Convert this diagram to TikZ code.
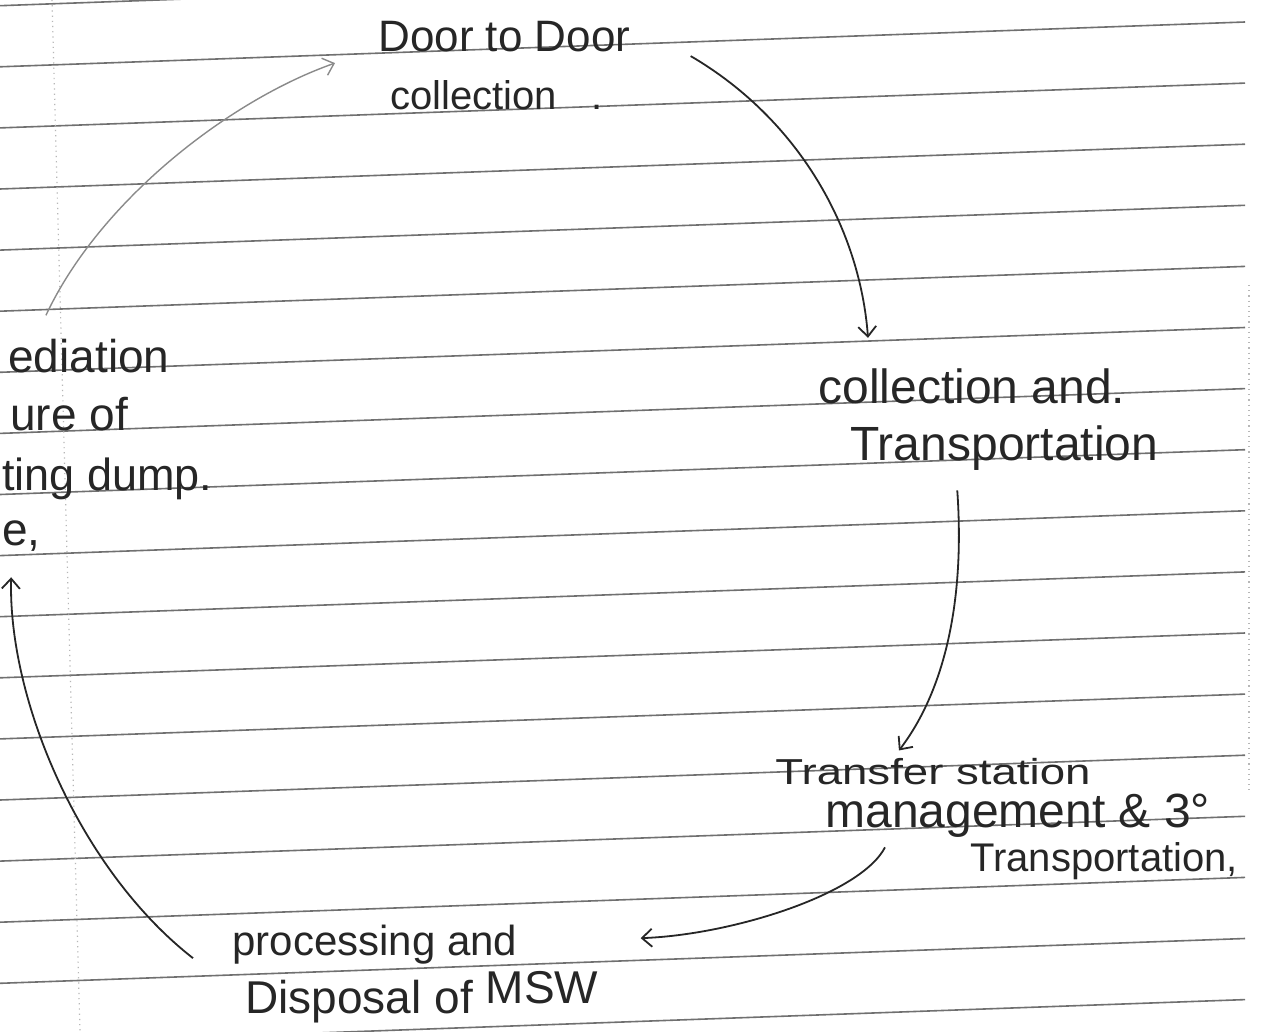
\documentclass[tikz,border=0pt]{standalone}
\usepackage{fontspec}
\setmainfont{Liberation Sans}
\usetikzlibrary{arrows.meta}
\definecolor{ink}{HTML}{262626}
\definecolor{rulec}{HTML}{707070}
\definecolor{faintink}{HTML}{8A8A8A}
\newcommand\hwsize[1]{\fontsize{#1}{#1}\selectfont}
\begin{document}
\begin{tikzpicture}[x=0.5pt,y=-0.5pt,
  hw/.style={inner sep=0pt, text=ink},
  rule/.style={draw=rulec, line width=0.8pt},
  margin/.style={draw=rulec!50, line width=0.6pt, dotted},
  conn/.style={draw=ink, line width=0.9pt, -{Straight Barb[length=5pt,width=9pt]}},
  faintconn/.style={conn, draw=faintink, line width=0.7pt}]
\useasboundingbox (0,0) rectangle (1262,1032);
\clip (0,0) rectangle (1262,1032);
\fill[white] (0,0) rectangle (1262,1032);
% ruled paper
\foreach \k in {-1,...,16}
  \draw[rule] (0,{66.8+61.1*\k}) -- (1245,{22+61.1*\k});
\draw[margin] (52,0) -- (80,1032);
\draw[margin] (1249,285) -- (1249,790);
% texts
\node[hw, anchor=base west, font=\hwsize{22}] (door1) at (378,52) {Door to Door};
\node[hw, anchor=base west, font=\hwsize{20}] (door2) at (390,110) {collection\hspace{17pt}.};
\node[hw, anchor=base west, font=\hwsize{24}] (coll1) at (818,403) {collection and.};
\node[hw, anchor=base west, font=\hwsize{24}] (coll2) at (850,460) {Transportation};
\node[hw, anchor=base west, font=\hwsize{19}] (tr0) at (775,784) {\scalebox{1.2}[0.95]{Transfer station}};
\node[hw, anchor=base west, font=\hwsize{24}] (tr1) at (825,827) {management \& 3°};
\node[hw, anchor=base west, font=\hwsize{20}] (tr2) at (970,871) {Transportation,};
\node[hw, anchor=base west, font=\hwsize{21}] (proc1) at (232,955) {processing and};
\node[hw, anchor=base west, font=\hwsize{23}] (proc2) at (245,1013) {Disposal of \raisebox{5pt}{MSW}};
\node[hw, anchor=base west, font=\hwsize{23}] (left1) at (8,372) {ediation};
\node[hw, anchor=base west, font=\hwsize{23}] (left2) at (10,430) {ure of};
\node[hw, anchor=base west, font=\hwsize{22.5}] (left3) at (2,490) {ting dump.};
\node[hw, anchor=base west, font=\hwsize{23}] (left4) at (2,545) {e,};
% connectors
\draw[conn] ([shift={(60,19)}]door1.east) .. controls (800,120) and (860,230) .. ([shift={(50,-30)}]coll1.north west);
\draw[conn] ([shift={(-47,20)}]coll2.south) .. controls (965,600) and (945,690) .. ([shift={(-34,-7)}]tr0.north);
\draw[conn] ([shift={(60,10)}]tr1.south west) .. controls (860,895) and (730,935) .. ([shift={(123,-6)}]proc1.east);
\draw[conn] ([shift={(-39,14)}]proc1.west) .. controls (80,870) and (8,700) .. ([shift={(-30,26)}]left4.south east);
\draw[faintconn] ([shift={(-43,-23)}]left1.north) .. controls (100,200) and (230,100) .. ([shift={(-43,26)}]door1.west);
\end{tikzpicture}
\end{document}
